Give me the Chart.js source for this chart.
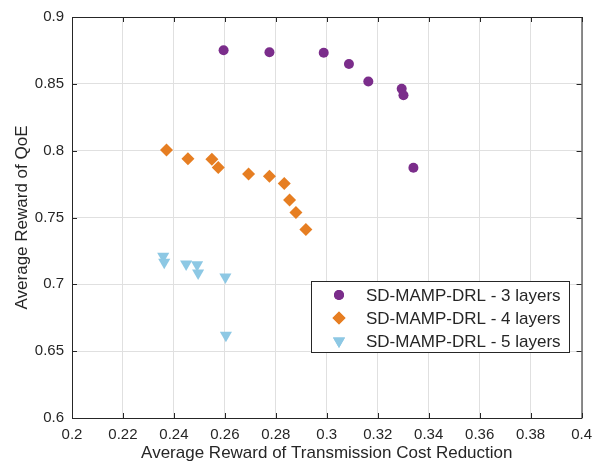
<!DOCTYPE html>
<html>
<head>
<meta charset="utf-8">
<script src="https://cdn.jsdelivr.net/npm/chart.js@4"></script>
<style>
  html, body { margin: 0; padding: 0; background: #fff; }
  #wrap { width: 600px; height: 464px; }
</style>
</head>
<body>
<div id="wrap"><canvas id="chart" width="600" height="464"></canvas></div>
<script>
// Data
const layers3X = [0.2595, 0.2775, 0.2988, 0.3087, 0.3163, 0.3294, 0.3301, 0.3340];
const layers3Y = [0.8751, 0.8736, 0.8732, 0.8648, 0.8518, 0.8463, 0.8414, 0.7872];

const layers4X = [0.2371, 0.2455, 0.2549, 0.2574, 0.2693, 0.2775, 0.2833, 0.2854, 0.2879, 0.2918];
const layers4Y = [0.8005, 0.7939, 0.7936, 0.7875, 0.7826, 0.7809, 0.7754, 0.7631, 0.7538, 0.7410];

const layers5X = [0.2358, 0.2362, 0.2448, 0.2491, 0.2495, 0.2602, 0.2604];
const layers5Y = [0.7210, 0.7166, 0.7153, 0.7146, 0.7084, 0.7055, 0.6620];

const xTicks = [0.2, 0.22, 0.24, 0.26, 0.28, 0.3, 0.32, 0.34, 0.36, 0.38, 0.4];
const yTicks = [0.6, 0.65, 0.7, 0.75, 0.8, 0.85, 0.9];

const seriesNames = ['SD-MAMP-DRL - 3 layers', 'SD-MAMP-DRL - 4 layers', 'SD-MAMP-DRL - 5 layers'];

const FONT = '"Liberation Sans", Arial, Helvetica, sans-serif';
const AXIS_COLOR = '#262626';

function toPoints(xs, ys) {
  return xs.map((x, i) => ({ x: x, y: ys[i] }));
}

const styles = [
  { color: '#7B2D8B', pointStyle: 'circle', pointRadius: 5, rotation: 0 },
  { color: '#E67E22', pointStyle: 'rectRot', pointRadius: 6.5, rotation: 0 },
  { color: '#8DC8E4', pointStyle: 'triangle', pointRadius: 7, rotation: 180 }
];

const datasets = [
  toPoints(layers3X, layers3Y),
  toPoints(layers4X, layers4Y),
  toPoints(layers5X, layers5Y)
].map((pts, i) => ({
  label: seriesNames[i],
  data: pts,
  backgroundColor: styles[i].color,
  borderColor: styles[i].color,
  borderWidth: 0,
  pointStyle: styles[i].pointStyle,
  pointRadius: styles[i].pointRadius,
  pointHoverRadius: styles[i].pointRadius,
  rotation: styles[i].rotation
}));

// box, inward ticks and the legend inside the plot area
const framePlugin = {
  id: 'frame',
  afterDatasetsDraw(chart) {
    const { ctx, chartArea: a, scales } = chart;
    ctx.save();
    ctx.strokeStyle = AXIS_COLOR;
    ctx.lineWidth = 1;
    ctx.beginPath();
    ctx.rect(a.left + 0.5, a.top + 0.5, a.right - a.left, a.bottom - a.top);
    ctx.stroke();

    const len = 5;
    ctx.beginPath();
    xTicks.forEach(v => {
      const px = Math.round(scales.x.getPixelForValue(v)) + 0.5;
      ctx.moveTo(px, a.bottom); ctx.lineTo(px, a.bottom - len);
      ctx.moveTo(px, a.top); ctx.lineTo(px, a.top + len);
    });
    yTicks.forEach(v => {
      const py = Math.round(scales.y.getPixelForValue(v)) + 0.5;
      ctx.moveTo(a.left, py); ctx.lineTo(a.left + len, py);
      ctx.moveTo(a.right, py); ctx.lineTo(a.right - len, py);
    });
    ctx.stroke();

    // legend
    const box = { x: 311.5, y: 281.5, w: 258, h: 71 };
    ctx.fillStyle = '#fff';
    ctx.fillRect(box.x, box.y, box.w, box.h);
    ctx.strokeStyle = AXIS_COLOR;
    ctx.strokeRect(box.x, box.y, box.w, box.h);
    ctx.font = '17px ' + FONT;
    ctx.textBaseline = 'middle';
    ctx.textAlign = 'left';
    const rowY = [295, 318, 341];
    datasets.forEach((ds, i) => {
      ctx.fillStyle = ds.backgroundColor;
      Chart.helpers.drawPoint(ctx, {
        pointStyle: ds.pointStyle,
        rotation: ds.rotation,
        radius: ds.pointRadius,
        borderWidth: 0
      }, 339, rowY[i]);
      ctx.fill();
      ctx.fillStyle = AXIS_COLOR;
      ctx.fillText(ds.label, 366, rowY[i] + 1);
    });
    ctx.restore();
  }
};

new Chart(document.getElementById('chart'), {
  type: 'scatter',
  data: { datasets },
  plugins: [framePlugin],
  options: {
    responsive: false,
    animation: false,
    events: [],
    layout: { padding: { top: 13, right: 17, left: 0, bottom: 0 } },
    plugins: {
      legend: { display: false },
      tooltip: { enabled: false }
    },
    scales: {
      x: {
        type: 'linear',
        min: 0.2,
        max: 0.4,
        afterBuildTicks: axis => { axis.ticks = xTicks.map(v => ({ value: v })); },
        afterFit: axis => { axis.height = 46; },
        border: { display: false },
        grid: { color: '#e0e0e0', drawTicks: false },
        ticks: {
          padding: 8,
          color: AXIS_COLOR,
          font: { family: FONT, size: 15 },
          maxRotation: 0,
          callback: v => String(Math.round(v * 100) / 100)
        },
        title: {
          display: true,
          text: 'Average Reward of Transmission Cost Reduction',
          color: AXIS_COLOR,
          font: { family: FONT, size: 17 },
          padding: { top: 2, bottom: 0 }
        }
      },
      y: {
        type: 'linear',
        min: 0.6,
        max: 0.9,
        afterBuildTicks: axis => { axis.ticks = yTicks.map(v => ({ value: v })); },
        afterFit: axis => { axis.width = 72; },
        border: { display: false },
        grid: { color: '#e0e0e0', drawTicks: false },
        ticks: {
          padding: 8,
          color: AXIS_COLOR,
          font: { family: FONT, size: 15 },
          callback: v => String(Math.round(v * 100) / 100)
        },
        title: {
          display: true,
          text: 'Average Reward of QoE',
          color: AXIS_COLOR,
          font: { family: FONT, size: 17 },
          padding: { top: 12, bottom: 4 }
        }
      }
    }
  }
});
</script>
</body>
</html>
